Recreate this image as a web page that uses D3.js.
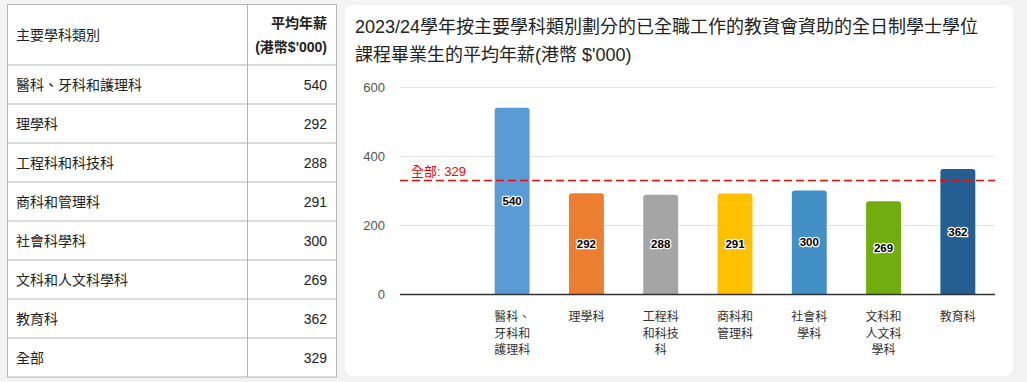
<!DOCTYPE html>
<html><head><meta charset="utf-8">
<script src="https://cdn.jsdelivr.net/npm/d3@7"></script>
<style>
html,body{margin:0;padding:0;background:#f3f3f3;}
svg{display:block;font-family:"Liberation Sans",Arial,"Noto Sans CJK TC",sans-serif;}
</style></head><body>
<svg id="c" width="1027" height="382"></svg>
<script>
const categories = ["醫科、牙科和護理科","理學科","工程科和科技科","商科和管理科","社會科學科","文科和人文科學科","教育科"];
const values = [540,292,288,291,300,269,362];
const barColors = ["#5b9bd5","#ed7d31","#a5a5a5","#ffc000","#4390c6","#70ad0e","#255e91"];
const overallLabel = "全部";
const overallValue = 329;
const yTicks = [0,200,400,600];
const titleLines = ["2023/24學年按主要學科類別劃分的已全職工作的教資會資助的全日制學士學位","課程畢業生的平均年薪(港幣 $'000)"];
const tableHead = ["主要學科類別","平均年薪","(港幣$'000)"];

const svg = d3.select("#c");

// ---- Table ----
const tX0 = 7.5, tX1 = 247.5, tX2 = 336.5, tTop = 4.5, headH = 60.5, rowH = 39;
const rows = categories.map((c,i)=>({c, v: values[i]})).concat([{c: overallLabel, v: overallValue}]);
const tBottom = tTop + headH + rows.length*rowH;
const tg = svg.append("g");
tg.append("rect").attr("x",tX0).attr("y",tTop).attr("width",tX2-tX0).attr("height",tBottom-tTop)
  .attr("fill","#fff").attr("stroke","#b5b5b5");
tg.append("line").attr("x1",tX1).attr("x2",tX1).attr("y1",tTop).attr("y2",tBottom).attr("stroke","#b5b5b5");
rows.forEach((r,i)=>{
  const y = tTop + headH + i*rowH;
  tg.append("line").attr("x1",tX0).attr("x2",tX2).attr("y1",y).attr("y2",y).attr("stroke","#b5b5b5");
  tg.append("text").attr("x",16).attr("y",y+rowH/2+5).attr("font-size",14).attr("fill","#222").text(r.c);
  tg.append("text").attr("x",327).attr("y",y+rowH/2+5).attr("font-size",14).attr("fill","#222")
    .attr("text-anchor","end").text(r.v);
});
tg.append("text").attr("x",16).attr("y",40).attr("font-size",14).attr("fill","#222").text(tableHead[0]);
tg.append("text").attr("x",327).attr("y",28).attr("font-size",14).attr("font-weight","bold").attr("fill","#222")
  .attr("text-anchor","end").text(tableHead[1]);
tg.append("text").attr("x",327).attr("y",52).attr("font-size",14).attr("font-weight","bold").attr("fill","#222")
  .attr("text-anchor","end").text(tableHead[2]);

// ---- Chart card ----
svg.append("rect").attr("x",345).attr("y",5).attr("width",668).attr("height",371).attr("rx",8).attr("fill","#fff");

const tt = svg.append("text").attr("font-size",18).attr("fill","#222");
titleLines.forEach((l,i)=> tt.append("tspan").attr("x",355).attr("y",33+i*28).text(l));

const y = d3.scaleLinear().domain([0,600]).range([294,87]);
const x = d3.scaleBand().domain(categories).range([475,995]).paddingInner(0.53).paddingOuter(0.265);
const gx0 = 400, gx1 = 995;

const g = svg.append("g");
g.selectAll("line.grid").data(yTicks.filter(d=>d>0)).join("line").attr("class","grid")
  .attr("x1",gx0).attr("x2",gx1).attr("y1",d=>Math.round(y(d))+0.5).attr("y2",d=>Math.round(y(d))+0.5)
  .attr("stroke","#e3e3e3");
g.selectAll("text.yt").data(yTicks).join("text").attr("class","yt")
  .attr("x",385).attr("y",d=>y(d)+4.5).attr("text-anchor","end").attr("font-size",13).attr("fill","#555").text(d=>d);

function topRounded(x0,y0,w,h,r){
  r = Math.min(r,h);
  return `M${x0},${y0+h}V${y0+r}Q${x0},${y0} ${x0+r},${y0}H${x0+w-r}Q${x0+w},${y0} ${x0+w},${y0+r}V${y0+h}Z`;
}
g.selectAll("path.bar").data(values).join("path").attr("class","bar")
  .attr("d",(d,i)=>topRounded(x(categories[i]),y(d),x.bandwidth(),y(0)-y(d),3))
  .attr("fill",(d,i)=>barColors[i]);

g.append("line").attr("x1",gx0).attr("x2",gx1).attr("y1",294.5).attr("y2",294.5).attr("stroke","#333").attr("stroke-width",1.5);

// average line
g.append("line").attr("x1",gx0).attr("x2",gx1).attr("y1",y(overallValue)).attr("y2",y(overallValue))
  .attr("stroke","#ff0000").attr("stroke-width",1.3).attr("stroke-dasharray","8,4");
g.append("text").attr("x",411).attr("y",y(overallValue)-4).attr("font-size",13).attr("fill","#ff0000")
  .text(`${overallLabel}: ${overallValue}`);

// value labels
g.selectAll("text.vl").data(values).join("text").attr("class","vl")
  .attr("x",(d,i)=>x(categories[i])+x.bandwidth()/2).attr("y",d=>(y(d)+y(0))/2+4)
  .attr("text-anchor","middle").attr("font-size",11.5).attr("font-weight","bold")
  .attr("fill","#000").attr("stroke","#fff").attr("stroke-width",2.5).attr("paint-order","stroke")
  .attr("stroke-linejoin","round").text(d=>d);

// x labels, wrapped by 3 chars
categories.forEach((c,i)=>{
  const parts = c.match(/.{1,3}/gu);
  const t = g.append("text").attr("text-anchor","middle").attr("font-size",12).attr("fill","#333");
  parts.forEach((p,j)=> t.append("tspan").attr("x",x(c)+x.bandwidth()/2).attr("y",321+j*16.5).text(p));
});
</script></body></html>
